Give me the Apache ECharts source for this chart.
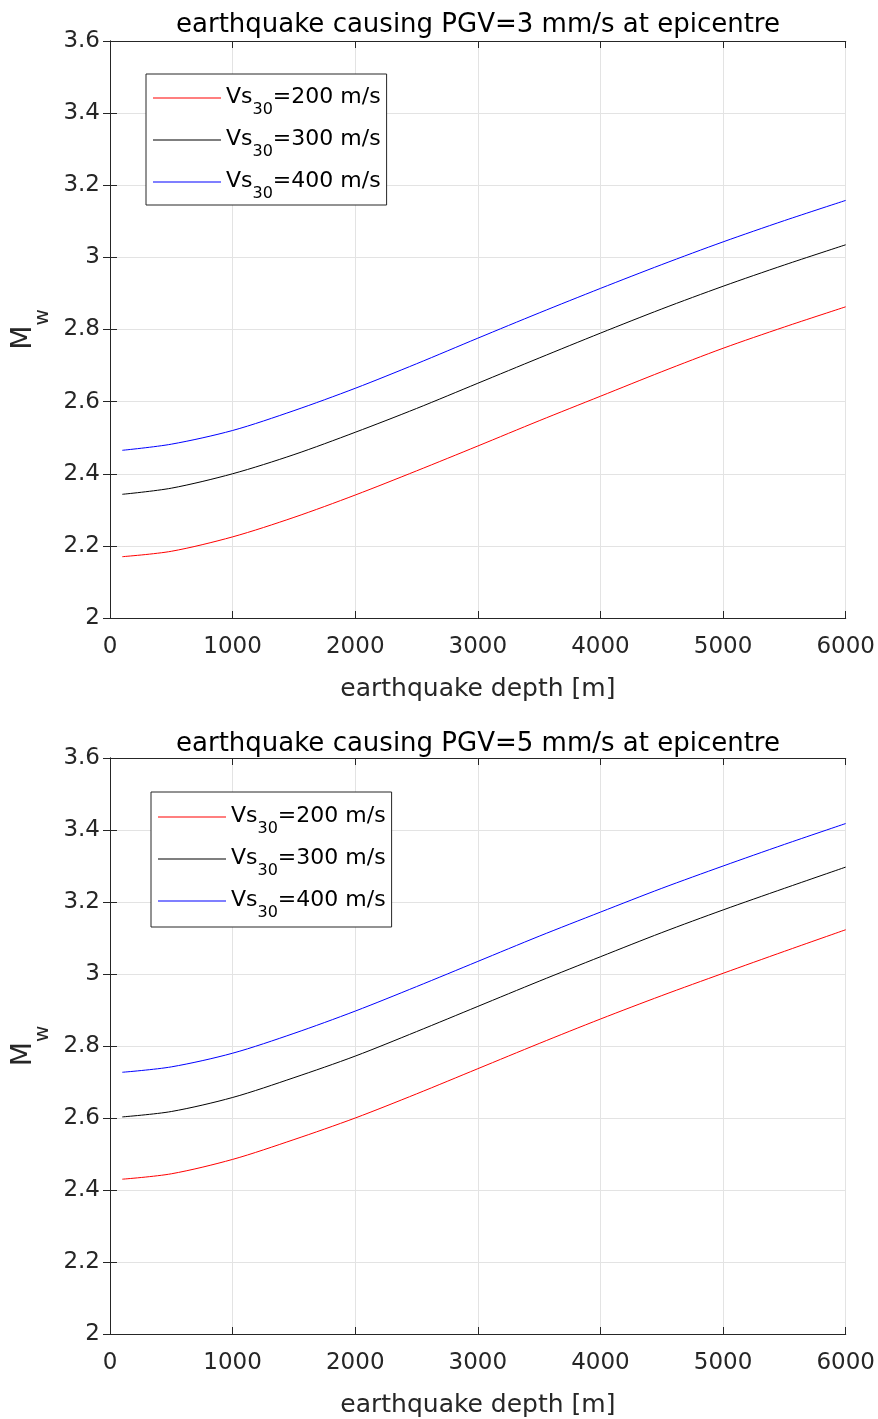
<!DOCTYPE html>
<html>
<head>
<meta charset="utf-8">
<script src="https://cdn.jsdelivr.net/npm/echarts@6/dist/echarts.min.js"></script>
<style>
  html, body { margin: 0; padding: 0; background: #fff; }
  #chart { width: 878px; height: 1419px; }
</style>
</head>
<body>
<div id="chart"></div>
<script>
// depth [m]
const depths = [100, 500, 1000, 1500, 2000, 2500, 3000, 3500, 4000, 4500, 5000, 5500, 6000]

// PGV = 3 mm/s
const pgv3_vs200 = [2.170, 2.185, 2.225, 2.279, 2.341, 2.408, 2.477, 2.547, 2.615, 2.683, 2.748, 2.807, 2.863]
const pgv3_vs300 = [2.343, 2.360, 2.400, 2.453, 2.515, 2.581, 2.651, 2.721, 2.790, 2.857, 2.920, 2.979, 3.035]
const pgv3_vs400 = [2.465, 2.482, 2.520, 2.575, 2.637, 2.705, 2.776, 2.846, 2.914, 2.980, 3.043, 3.102, 3.158]

// PGV = 5 mm/s
const pgv5_vs200 = [2.430, 2.445, 2.485, 2.540, 2.600, 2.667, 2.737, 2.807, 2.875, 2.940, 3.002, 3.063, 3.123]
const pgv5_vs300 = [2.603, 2.618, 2.657, 2.712, 2.772, 2.840, 2.910, 2.980, 3.048, 3.115, 3.178, 3.238, 3.297]
const pgv5_vs400 = [2.727, 2.742, 2.780, 2.835, 2.897, 2.965, 3.035, 3.105, 3.172, 3.238, 3.300, 3.360, 3.418]

const seriesNames = ['Vs30=200 m/s', 'Vs30=300 m/s', 'Vs30=400 m/s']
const seriesColors = ['#ff0000', '#000000', '#0000ff']
const titles = [
  'earthquake causing PGV=3 mm/s at epicentre',
  'earthquake causing PGV=5 mm/s at epicentre',
]

const FONT = 'DejaVu Sans'
const AX = '#262626'
const GRIDC = '#e3e3e3'

const pair = (vals) => depths.map((d, i) => [d, vals[i]])

const chart = echarts.init(document.getElementById('chart'), null, { renderer: 'canvas' })

const grids = [
  { left: 110, top: 41, width: 737, height: 577 },
  { left: 110, top: 758, width: 737, height: 578 },
]

function xAxes(gi) {
  return [
    {
      type: 'value', gridIndex: gi, min: 0, max: 6000, interval: 1000, position: 'bottom',
      name: 'earthquake depth [m]', nameLocation: 'middle', nameGap: 59,
      nameTextStyle: { fontFamily: FONT, fontSize: 25, color: AX },
      axisLine: { show: true, lineStyle: { color: AX, width: 1 } },
      axisTick: { show: true, inside: true, length: 7, lineStyle: { color: AX } },
      axisLabel: { fontFamily: FONT, fontSize: 23, color: AX, margin: 18, formatter: (v) => String(v) },
      splitLine: { show: true, lineStyle: { color: GRIDC, width: 1 } },
    },
    {
      type: 'value', gridIndex: gi, min: 0, max: 6000, interval: 1000, position: 'top',
      axisLine: { show: true, lineStyle: { color: AX, width: 1 } },
      axisTick: { show: true, inside: true, length: 7, lineStyle: { color: AX } },
      axisLabel: { show: false },
      splitLine: { show: false },
    },
  ]
}

function yAxes(gi) {
  return [
    {
      type: 'value', gridIndex: gi, min: 2, max: 3.6, interval: 0.2, position: 'left',
      name: '{m|M}{s|w}', nameLocation: 'middle', nameGap: 56, nameRotate: 90,
      nameTextStyle: {
        fontFamily: FONT, fontSize: 28, color: AX,
        rich: {
          m: { fontFamily: FONT, fontSize: 28, color: AX, lineHeight: 28, verticalAlign: 'top' },
          s: { fontFamily: FONT, fontSize: 20, color: AX, lineHeight: 20, verticalAlign: 'top', padding: [23, 0, 0, 0] },
        },
      },
      axisLine: { show: true, lineStyle: { color: AX, width: 1 } },
      axisTick: { show: true, inside: true, length: 7, lineStyle: { color: AX } },
      axisLabel: { fontFamily: FONT, fontSize: 23, color: AX, margin: 10 },
      splitLine: { show: true, lineStyle: { color: GRIDC, width: 1 } },
    },
    {
      type: 'value', gridIndex: gi, min: 2, max: 3.6, interval: 0.2, position: 'right',
      axisLine: { show: true, lineStyle: { color: AX, width: 1 } },
      axisTick: { show: true, inside: true, length: 7, lineStyle: { color: AX } },
      axisLabel: { show: false },
      splitLine: { show: false },
    },
  ]
}

// main text and subscript "30"
const legendRich = {
  a: { fontFamily: FONT, fontSize: 22, color: '#000', lineHeight: 26, verticalAlign: 'top', padding: [1, 0, 0, 0] },
  s: { fontFamily: FONT, fontSize: 16, color: '#000', lineHeight: 16, verticalAlign: 'top', padding: [17, 0, 0, 0] },
}
function legendFmt(name) {
  return '{a|Vs}{s|30}{a|' + name.slice(4) + '}'
}

function makeLegend(left, top, pad) {
  return {
    orient: 'vertical', left: left, top: top,
    data: seriesNames,
    icon: 'rect',
    itemWidth: 68, itemHeight: 1, itemGap: 9,
    padding: pad,
    borderColor: AX, borderWidth: 1, backgroundColor: '#fff',
    formatter: legendFmt,
    textStyle: { fontFamily: FONT, fontSize: 22, color: '#000', rich: legendRich },
    selectedMode: false,
  }
}

const seriesData = [
  [pgv3_vs200, pgv3_vs300, pgv3_vs400],
  [pgv5_vs200, pgv5_vs300, pgv5_vs400],
]

const series = []
seriesData.forEach((group, gi) => {
  group.forEach((vals, si) => {
    series.push({
      type: 'line', name: seriesNames[si], data: pair(vals),
      xAxisIndex: gi * 2, yAxisIndex: gi * 2,
      smooth: 0.3, symbol: 'none',
      lineStyle: { color: seriesColors[si], width: 1 },
      itemStyle: { color: seriesColors[si] },
      silent: true, animation: false,
    })
  })
})

chart.setOption({
  backgroundColor: '#fff',
  animation: false,
  title: [
    { text: titles[0], left: 473, top: 7, textAlign: 'center',
      textStyle: { fontFamily: FONT, fontSize: 26, fontWeight: 'normal', color: '#000' } },
    { text: titles[1], left: 473, top: 726, textAlign: 'center',
      textStyle: { fontFamily: FONT, fontSize: 26, fontWeight: 'normal', color: '#000' } },
  ],
  legend: [makeLegend(146, 74, [11, 6, 3, 7]), makeLegend(151, 792, [12, 6, 6, 7])],
  grid: grids,
  xAxis: [...xAxes(0), ...xAxes(1)],
  yAxis: [...yAxes(0), ...yAxes(1)],
  series: series,
})
</script>
</body>
</html>
